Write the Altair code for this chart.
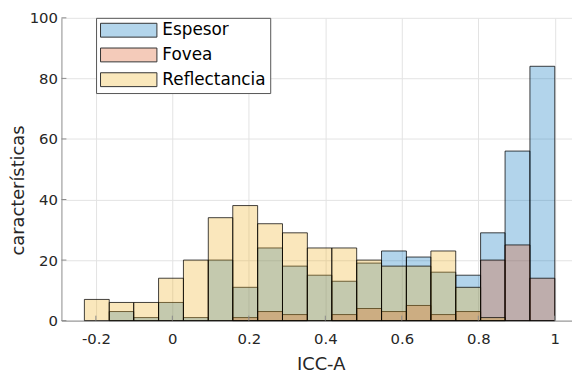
import altair as alt
import pandas as pd

# ---- data ----
bin_edges = [-0.230, -0.165, -0.101, -0.036, 0.029, 0.094, 0.158, 0.223, 0.288,
             0.353, 0.417, 0.482, 0.547, 0.612, 0.676, 0.741, 0.806, 0.870, 0.935, 1.000]
series_names = ["Espesor", "Fovea", "Reflectancia"]
espesor = [0, 3, 1, 6, 1, 20, 11, 24, 18, 15, 13, 19, 23, 21, 16, 15, 29, 56, 84]
fovea = [0, 0, 0, 0, 0, 0, 1, 3, 2, 0, 2, 4, 3, 5, 2, 3, 20, 25, 14]
reflectancia = [7, 6, 6, 14, 20, 34, 38, 32, 29, 24, 24, 20, 18, 18, 23, 11, 1, 0, 0]
series_colors = ["#0072BD", "#D95319", "#EDB120"]
legend_colors = ["#b3d5eb", "#f4cbba", "#fae8bc"]
x_ticks = [-0.2, 0, 0.2, 0.4, 0.6, 0.8, 1]
y_ticks = [0, 20, 40, 60, 80, 100]

rows = []
for name, counts in zip(series_names, [espesor, fovea, reflectancia]):
    for i, c in enumerate(counts):
        if c > 0:
            rows.append({"serie": name, "x0": bin_edges[i], "x1": bin_edges[i + 1],
                         "n": c, "base": 0})
df = pd.DataFrame(rows)

FONT = "DejaVu Sans"
TXT = "#262626"
AX = "#8c8c8c"
GRID = "#e3e3e3"

xscale = alt.Scale(domain=[-0.29, 1.045], nice=False, zero=False)
yscale = alt.Scale(domain=[0, 100], nice=False)

x_axis = alt.Axis(values=x_ticks, title="ICC-A", labelExpr="'' + datum.value",
                  grid=True, gridColor=GRID, ticks=False, domainColor=AX,
                  labelFont=FONT, labelFontSize=15, labelColor=TXT, labelPadding=11,
                  titleFont=FONT, titleFontSize=18, titleFontWeight="normal",
                  titleColor=TXT, titlePadding=9, titleX=262)
y_axis = alt.Axis(values=y_ticks, title="características",
                  grid=True, gridColor=GRID, ticks=False, domainColor=AX,
                  labelFont=FONT, labelFontSize=15, labelColor=TXT, labelPadding=4,
                  titleFont=FONT, titleFontSize=18, titleFontWeight="normal",
                  titleColor=TXT, titlePadding=2, titleY=174)

SWATCH = "M-1,-0.875H6.125V0.875H-1Z"

bars = alt.Chart(df).mark_rect(
    fillOpacity=0.3, stroke="black", strokeWidth=1, strokeOpacity=0.75
).encode(
    x=alt.X("x0:Q", scale=xscale, axis=x_axis),
    x2="x1:Q",
    y=alt.Y("n:Q", scale=yscale, axis=y_axis),
    y2="base:Q",
    color=alt.Color("serie:N",
                    scale=alt.Scale(domain=series_names, range=series_colors),
                    legend=None),
)

legend_layer = alt.Chart(df).mark_rect(fillOpacity=0, strokeWidth=0).encode(
    x=alt.X("x0:Q", scale=xscale, axis=x_axis),
    x2="x1:Q",
    y=alt.Y("n:Q", scale=yscale, axis=y_axis),
    y2="base:Q",
    fill=alt.Fill("serie:N",
                  scale=alt.Scale(domain=series_names, range=legend_colors),
                  legend=alt.Legend(title=None, orient="none", legendX=35, legendY=0,
                                    symbolType=SWATCH, symbolSize=256, symbolOpacity=1,
                                    symbolStrokeColor="#333333", symbolStrokeWidth=1,
                                    labelFont=FONT, labelFontSize=17, labelColor="black",
                                    labelOffset=46, padding=4, rowPadding=6,
                                    fillColor="white", strokeColor="#555555")),
)

ydf = pd.DataFrame({"t": y_ticks})
xdf = pd.DataFrame({"t": x_ticks})
ytk = alt.Chart(ydf).mark_rule(color=AX, strokeWidth=1).encode(
    y=alt.Y("t:Q", scale=yscale, axis=y_axis), x=alt.value(0), x2=alt.value(5))
xtk = alt.Chart(xdf).mark_rule(color=AX, strokeWidth=1).encode(
    x=alt.X("t:Q", scale=xscale, axis=x_axis), y=alt.value(306), y2=alt.value(301))

chart = alt.layer(bars, legend_layer, ytk, xtk).resolve_scale(
    color="independent", fill="independent"
).properties(
    width=516, height=306,
    autosize=alt.AutoSizeParams(type="none"),
    padding={"left": 54, "top": 8, "right": 0, "bottom": 52},
).configure_view(strokeWidth=0)

chart.save("out.html", embed_options={"renderer": "svg", "actions": False})
